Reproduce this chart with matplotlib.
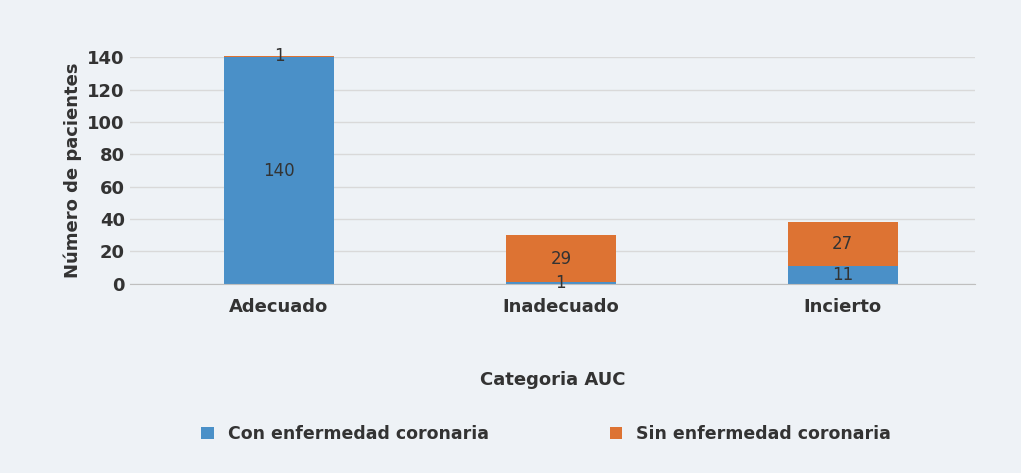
import matplotlib
matplotlib.use("Agg")
import matplotlib.pyplot as plt
import numpy as np

categories = ["Adecuado", "Inadecuado", "Incierto"]
con_enf = [140, 1, 11]
sin_enf = [1, 29, 27]
yticks = [0, 20, 40, 60, 80, 100, 120, 140]

fig = plt.figure(figsize=(10.21, 4.73), dpi=100)
fig.patch.set_facecolor("#eef2f6")
ax = fig.add_axes([0.127, 0.400, 0.828, 0.479])
ax.set_facecolor("none")
x = np.arange(len(categories))
blue, orange = "#4a90c8", "#dd7333"
b1 = ax.bar(x, con_enf, 0.39, color=blue, label="Con enfermedad coronaria", clip_on=False)
b2 = ax.bar(x, sin_enf, 0.39, bottom=con_enf, color=orange, label="Sin enfermedad coronaria", clip_on=False)
for i in range(len(x)):
    ax.text(x[i], con_enf[i] / 2, str(con_enf[i]), ha="center", va="center", fontsize=12, color="#333333")
    ax.text(x[i], con_enf[i] + sin_enf[i] / 2, str(sin_enf[i]), ha="center", va="center", fontsize=12, color="#333333")
ax.set_xlim(-0.53, 2.47)
ax.set_ylim(0, 140)
ax.set_yticks(yticks)
ax.set_xticks(x)
ax.set_xticklabels(categories, fontsize=13, color="#333333")
ax.tick_params(axis="y", labelsize=13, colors="#333333", length=0)
ax.tick_params(axis="x", length=0, pad=10)
for t in ax.get_yticklabels() + ax.get_xticklabels():
    t.set_fontweight("bold")
ax.grid(axis="y", color="#d9d9d9", lw=1)
ax.set_axisbelow(True)
for s in ["top", "right", "left"]:
    ax.spines[s].set_visible(False)
ax.spines["bottom"].set_color("#bfbfbf")
ax.set_ylabel("Número de pacientes", fontsize=13, fontweight="bold", color="#333333")
ax.set_xlabel("Categoria AUC", fontsize=13, fontweight="bold", color="#333333", labelpad=40)
fig.legend(handles=[b1, b2], loc="lower center", bbox_to_anchor=(0.535, 0.03), ncol=2,
           frameon=False, handlelength=0.7, handleheight=0.7, columnspacing=7,
           prop={"weight": "bold", "size": 12.5})
for t in fig.legends[0].get_texts():
    t.set_color("#333333")
fig.savefig("out.png", dpi=100, facecolor=fig.get_facecolor())
